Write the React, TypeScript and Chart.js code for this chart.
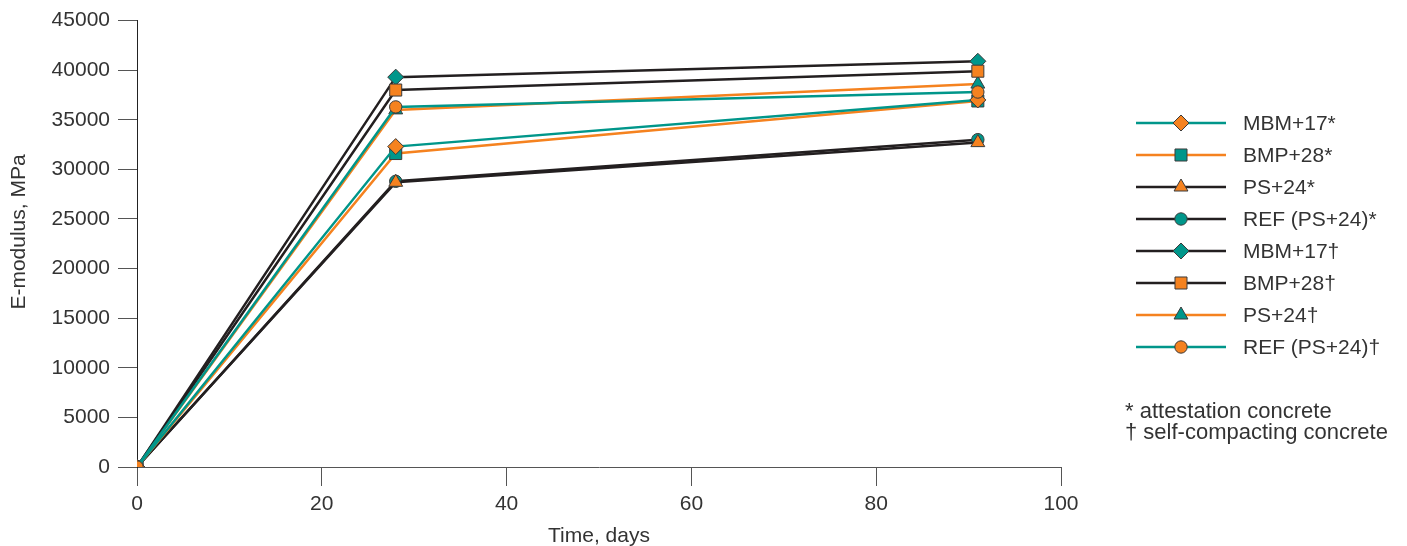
import React, { useEffect, useRef } from "react";
import { Chart, registerables } from "chart.js";
import { drawPoint } from "chart.js/helpers";

Chart.register(...registerables);

// Curing time (days) and measured E-modulus (MPa)
const days = [0, 28, 91];
const mbm17Att = [0, 32300, 37000];
const bmp28Att = [0, 31600, 36900];
const ps24Att = [0, 28700, 32700];
const refAtt = [0, 28800, 33000];
const mbm17Scc = [0, 39300, 40900];
const bmp28Scc = [0, 38000, 39900];
const ps24Scc = [0, 36000, 38600];
const refScc = [0, 36300, 37800];

const seriesLabels = [
  "MBM+17*",
  "BMP+28*",
  "PS+24*",
  "REF (PS+24)*",
  "MBM+17†",
  "BMP+28†",
  "PS+24†",
  "REF (PS+24)†",
];
const footnotes = ["* attestation concrete", "† self-compacting concrete"];
const yTicks = [0, 5000, 10000, 15000, 20000, 25000, 30000, 35000, 40000, 45000];
const xTicks = [0, 20, 40, 60, 80, 100];
const yTitle = "E-modulus, MPa";
const xTitle = "Time, days";

const TEAL = "#00968a";
const ORANGE = "#f5821f";
const BLACK = "#231f20";
const EDGE = "#3a3a3a";
const TEXT = "#333333";
const FONT = "'Liberation Sans', Arial, sans-serif";

// marker radius per shape so that all symbols look about the same size
const shapeRadius: Record<string, number> = {
  rectRot: 8,
  rect: 8.5,
  triangle: 8,
  circle: 6.2,
};

type Style = { line: string; fill: string; shape: string };
const styles: Style[] = [
  { line: TEAL, fill: ORANGE, shape: "rectRot" },
  { line: ORANGE, fill: TEAL, shape: "rect" },
  { line: BLACK, fill: ORANGE, shape: "triangle" },
  { line: BLACK, fill: TEAL, shape: "circle" },
  { line: BLACK, fill: TEAL, shape: "rectRot" },
  { line: BLACK, fill: ORANGE, shape: "rect" },
  { line: ORANGE, fill: TEAL, shape: "triangle" },
  { line: TEAL, fill: ORANGE, shape: "circle" },
];
const seriesValues = [mbm17Att, bmp28Att, ps24Att, refAtt, mbm17Scc, bmp28Scc, ps24Scc, refScc];
const drawOrder = [1, 2, 3, 4, 6, 5, 7, 0];

// Legend with line + marker samples, the footnotes and the y-axis title
const sideLegend = {
  id: "sideLegend",
  afterDraw(chart: Chart) {
    const ctx = chart.ctx;
    ctx.save();
    const x0 = 1136;
    const x1 = 1226;
    const xm = (x0 + x1) / 2;
    const textX = 1243;
    const top = 123;
    const step = 32;
    seriesLabels.forEach((label, i) => {
      const y = top + i * step;
      const s = styles[i];
      ctx.strokeStyle = s.line;
      ctx.lineWidth = 2.5;
      ctx.beginPath();
      ctx.moveTo(x0, y);
      ctx.lineTo(x1, y);
      ctx.stroke();
      ctx.fillStyle = s.fill;
      ctx.strokeStyle = EDGE;
      ctx.lineWidth = 1;
      drawPoint(
        ctx,
        { pointStyle: s.shape as any, radius: shapeRadius[s.shape], rotation: 0, borderWidth: 1 },
        xm,
        y
      );
      ctx.fillStyle = TEXT;
      ctx.font = `21px ${FONT}`;
      ctx.textAlign = "left";
      ctx.textBaseline = "middle";
      ctx.fillText(label, textX, y + 1);
    });
    ctx.font = `22px ${FONT}`;
    ctx.fillStyle = TEXT;
    ctx.textAlign = "left";
    ctx.textBaseline = "middle";
    footnotes.forEach((t, i) => {
      ctx.fillText(t, 1125, 412 + i * 21);
    });

    // rotated y-axis title
    ctx.translate(19, 232);
    ctx.rotate(-Math.PI / 2);
    ctx.textAlign = "center";
    ctx.font = `21px ${FONT}`;
    ctx.fillText(yTitle, 0, 0);
    ctx.restore();
  },
};

export default function App() {
  const ref = useRef<HTMLCanvasElement | null>(null);

  useEffect(() => {
    if (!ref.current) return;
    const datasets = seriesLabels.map((label, i) => ({
      label,
      data: days.map((d, j) => ({ x: d, y: seriesValues[i][j] })),
      borderColor: styles[i].line,
      backgroundColor: styles[i].fill,
      borderWidth: 2.5,
      pointStyle: styles[i].shape,
      pointRadius: shapeRadius[styles[i].shape],
      pointBorderColor: EDGE,
      pointBorderWidth: 1,
      pointBackgroundColor: styles[i].fill,
      tension: 0,
      fill: false,
      order: drawOrder[i],
    }));

    const chart = new Chart(ref.current, {
      type: "line",
      data: { datasets },
      plugins: [sideLegend],
      options: {
        animation: false,
        responsive: false,
        layout: { padding: { top: 19, right: 346, left: 0, bottom: 0 } },
        plugins: { legend: { display: false }, tooltip: { enabled: false } },
        scales: {
          x: {
            type: "linear",
            min: 0,
            max: 100,
            afterBuildTicks: (s: any) => {
              s.ticks = xTicks.map((v) => ({ value: v }));
            },
            afterFit: (s: any) => {
              s.height = 79;
            },
            grid: {
              display: true,
              drawOnChartArea: false,
              drawTicks: true,
              tickLength: 19,
              color: "#555555",
              lineWidth: 1,
            },
            border: { display: true, color: "#555555", width: 1 },
            ticks: {
              padding: 6,
              color: TEXT,
              font: { family: FONT, size: 21 },
              maxRotation: 0,
            },
            title: {
              display: true,
              text: xTitle,
              color: TEXT,
              font: { family: FONT, size: 21, lineHeight: 1 },
              padding: { top: 0, bottom: -1 },
            },
          },
          y: {
            type: "linear",
            min: 0,
            max: 45000,
            afterBuildTicks: (s: any) => {
              s.ticks = yTicks.map((v) => ({ value: v }));
            },
            afterFit: (s: any) => {
              s.width = 137;
            },
            grid: {
              display: true,
              drawOnChartArea: false,
              drawTicks: true,
              tickLength: 19,
              color: "#555555",
              lineWidth: 1,
            },
            border: { display: true, color: "#222222", width: 1 },
            ticks: {
              padding: 8,
              color: TEXT,
              font: { family: FONT, size: 21 },
              callback: (v: any) => String(v),
            },
            title: { display: false },
          },
        },
      },
    } as any);
    return () => chart.destroy();
  }, []);

  return (
    <div style={{ position: "fixed", left: 0, top: 0, width: 1407, height: 546, background: "#ffffff" }}>
      <canvas ref={ref} width={1407} height={546} style={{ display: "block" }} />
    </div>
  );
}
